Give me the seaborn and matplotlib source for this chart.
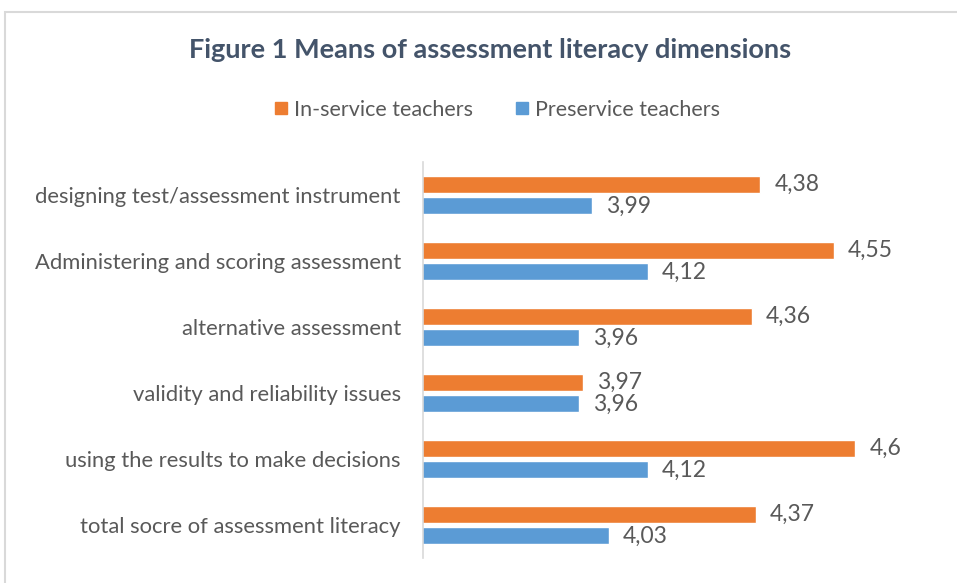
import matplotlib
matplotlib.use("Agg")
import matplotlib.pyplot as plt
import seaborn as sns
import pandas as pd
from matplotlib.patches import Rectangle
from matplotlib.lines import Line2D

categories = [
    "designing test/assessment instrument",
    "Administering and scoring assessment",
    "alternative assessment",
    "validity and reliability issues",
    "using the results to make decisions",
    "total socre of assessment literacy",
]
series_names = ["In-service teachers", "Preservice teachers"]
inservice = [4.38, 4.55, 4.36, 3.97, 4.6, 4.37]
preservice = [3.99, 4.12, 3.96, 3.96, 4.12, 4.03]
colors = ["#ED7D31", "#5B9BD5"]

df = pd.DataFrame({
    "dimension": categories * 2,
    "group": [series_names[0]] * len(categories) + [series_names[1]] * len(categories),
    "value": inservice + preservice,
})

sns.set_theme(style="white")
plt.rcParams["font.family"] = ["Lato", "DejaVu Sans"]
text_col = "#595959"

fig = plt.figure(figsize=(9.57, 5.83), dpi=100)
ax = fig.add_axes([423 / 957, 25 / 583, (942 - 423) / 957, (558 - 162) / 583])

sns.barplot(data=df, y="dimension", x="value", hue="group", order=categories,
            hue_order=series_names, palette=colors, orient="h",
            width=0.66, gap=0.22, ax=ax, legend=False, saturation=1)

ax.set_xlim(3.6, 4.8)
ax.set_ylim(5.5, -0.5)
ax.set_xlabel("")
ax.set_ylabel("")
ax.set_xticks([])
for s in ["top", "right", "bottom"]:
    ax.spines[s].set_visible(False)
ax.spines["left"].set_color("#D9D9D9")
ax.spines["left"].set_linewidth(1.2)
ax.tick_params(axis="y", length=0, pad=16, labelsize=15.8, labelcolor=text_col)

def fmt(v):
    s = f"{v:.2f}".rstrip("0").rstrip(".")
    return s.replace(".", ",")

for cont in ax.containers:
    ax.bar_label(cont, labels=[fmt(b.get_width()) for b in cont], padding=10,
                 fontsize=16.5, color=text_col)

fig.text(490 / 957, 1 - 50 / 583, "Figure 1 Means of assessment literacy dimensions",
         ha="center", va="center", fontsize=19.5, fontweight="bold", color="#44546A")

handles = [Line2D([], [], marker="s", linestyle="", markersize=8, color=c) for c in colors]
fig.legend(handles, series_names, loc="center", bbox_to_anchor=(495 / 957, 1 - 110 / 583),
           ncol=2, frameon=False, fontsize=15.5, labelcolor=text_col, handletextpad=0.1,
           columnspacing=1.8, handlelength=1.0)

fig.patches.append(Rectangle((5 / 957, -0.1), 1.2, 1 - 12 / 583 + 0.1, transform=fig.transFigure,
                             fill=False, edgecolor="#D9D9D9", linewidth=1.5))

fig.savefig("out.png", dpi=100)
